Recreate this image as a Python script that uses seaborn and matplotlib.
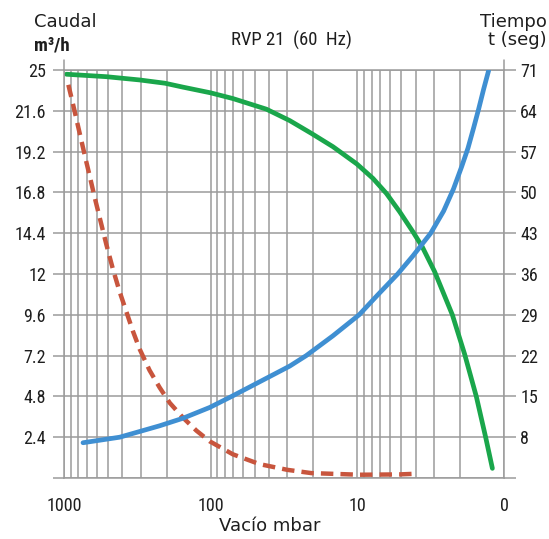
import numpy as np
import pandas as pd
import matplotlib
matplotlib.use('Agg')
import matplotlib.pyplot as plt
import matplotlib.ticker as mticker
from matplotlib import font_manager
import seaborn as sns

# curva verde: caudal (eje izquierdo)
vacio_caudal = [963, 514, 305, 205, 154.5, 100, 70.5, 41.7, 28.9, 20.6, 14.66, 10.07, 7.83, 6.34,
                5.15, 4.18, 3.61, 2.97, 2.25, 1.857, 1.545, 1.334, 1.20]
caudal = [24.74, 24.59, 24.39, 24.19, 23.95, 23.6, 23.25, 22.6, 21.9, 21.12, 20.3, 19.24, 18.36, 17.44,
          16.32, 15.09, 14.17, 12.64, 10.0, 7.6, 5.0, 2.5, 0.59]

# curva roja discontinua (eje izquierdo)
vacio_rojo = [948, 868, 790, 723, 668, 618, 562, 514, 464, 417, 376, 339, 305, 261, 223, 190,
              154.5, 125, 101.6, 70.5, 46.4, 30, 20.6, 9.64, 5.15, 4.27]
rojo = [24.34, 22.9, 21.3, 19.8, 18.5, 17.2, 15.7, 14.3, 12.8, 11.4, 10.2, 9.0, 7.9, 6.6, 5.55, 4.6,
        3.7, 2.9, 2.25, 1.45, 0.85, 0.5, 0.3, 0.2, 0.22, 0.25]

# curva azul: tiempo en segundos (eje derecho)
vacio_tiempo = [742, 417, 222.6, 154.5, 101.6, 71.9, 46.4, 28.9, 22.3, 14.66, 9.72, 7.27, 5.31, 4.18,
                3.16, 2.58, 2.21, 1.945, 1.76, 1.61, 1.489, 1.377, 1.273]
tiempo = [7.05, 8.0, 9.96, 11.25, 13.1, 15.0, 17.5, 20.2, 22.0, 25.4, 29.0, 32.4, 36.0, 39.1,
          43.0, 46.8, 50.6, 54.4, 57.6, 61.1, 64.3, 67.7, 70.9]

x_ticks = [1000, 100, 10, 1]
x_labels = ['1000', '100', '10', '0']
y_ticks = [0, 2.5, 5, 7.5, 10, 12.5, 15, 17.5, 20, 22.5, 25]
y_labels = ['', '2.4', '4.8', '7.2', '9.6', '12', '14.4', '16.8', '19.2', '21.6', '25']
t_ticks = [1, 8, 15, 22, 29, 36, 43, 50, 57, 64, 71]
t_labels = ['', '8', '15', '22', '29', '36', '43', '50', '57', '64', '71']

sns.set_style('white')
plt.rcParams['font.family'] = ['DejaVu Sans']


def fuente_estrecha(size, bold=False):
    fl = font_manager.fontManager.ttflist
    peso = 700 if bold else 400
    for nombre in ['Roboto Condensed', 'Liberation Sans Narrow', 'Open Sans Condensed']:
        cands = [f for f in fl if f.name == nombre and f.style == 'normal']
        if cands:
            f = min(cands, key=lambda f: abs((f.weight if isinstance(f.weight, int) else 400) - peso))
            return font_manager.FontProperties(fname=f.fname, size=size)
    cands = [f for f in fl if f.name == 'DejaVu Sans' and 'condensed' in str(f.stretch)
             and f.style == 'normal']
    if cands:
        f = min(cands, key=lambda f: abs((f.weight if isinstance(f.weight, int) else 400) - peso))
        return font_manager.FontProperties(fname=f.fname, size=size)
    return font_manager.FontProperties(family='DejaVu Sans', size=size,
                                       weight='bold' if bold else 'normal')


fp_tick = fuente_estrecha(13)
fp_title = fuente_estrecha(13.5)
fp_unit = fuente_estrecha(13.5, bold=True)

grid_c = '#9b9b9b'
txt_c = '#1e1e1e'
verde = '#1aa64b'
azul = '#3f8fd2'
rojo_c = '#c8553d'

W, H = 549, 539
fig = plt.figure(figsize=(W / 100, H / 100), dpi=100)
ax = fig.add_axes([64 / W, 61 / H, 440 / W, 408 / H])
ax.set_xscale('log')

df_c = pd.DataFrame({'vacio': vacio_caudal, 'caudal': caudal})
df_r = pd.DataFrame({'vacio': vacio_rojo, 'valor': rojo})
df_t = pd.DataFrame({'vacio': vacio_tiempo, 'tiempo': tiempo})

sns.lineplot(data=df_r, x='vacio', y='valor', ax=ax, color=rojo_c, lw=3.2,
             linestyle=(0, (2.8, 1.6)))
sns.lineplot(data=df_c, x='vacio', y='caudal', ax=ax, color=verde, lw=3.4)

ax.set_xlim(1000, 1)
ax.set_ylim(0, 25)
ax.set_axisbelow(True)
ax.xaxis.set_major_locator(mticker.FixedLocator(x_ticks))
ax.xaxis.set_major_formatter(mticker.FixedFormatter(x_labels))
ax.xaxis.set_minor_locator(mticker.LogLocator(base=10, subs=range(2, 10)))
ax.xaxis.set_minor_formatter(mticker.NullFormatter())
ax.set_yticks(y_ticks)
ax.set_yticklabels(y_labels)
ax.grid(True, which='both', axis='x', color=grid_c, lw=1.1)
ax.grid(True, which='major', axis='y', color=grid_c, lw=1.1)
ax.tick_params(axis='x', which='major', length=8.6, width=1.1, color=grid_c, pad=5,
               labelcolor=txt_c)
ax.tick_params(axis='x', which='minor', length=0)
ax.tick_params(axis='y', length=8, width=1.1, color=grid_c, pad=5, labelcolor=txt_c)
for lab in ax.get_xticklabels() + ax.get_yticklabels():
    lab.set_fontproperties(fp_tick)
for s in ax.spines.values():
    s.set_color(grid_c)
    s.set_linewidth(1.1)
ax.set_xlabel('')
ax.set_ylabel('')

ax2 = ax.twinx()
sns.lineplot(data=df_t, x='vacio', y='tiempo', ax=ax2, color=azul, lw=3.4)
ax2.set_xlim(1000, 1)
ax2.set_ylim(1, 71)
ax2.set_yticks(t_ticks)
ax2.set_yticklabels(t_labels)
ax2.tick_params(axis='y', length=8.6, width=1.1, color=grid_c, pad=3, labelcolor=txt_c)
for lab in ax2.get_yticklabels():
    lab.set_fontproperties(fp_tick)
for s in ax2.spines.values():
    s.set_visible(False)
ax2.set_ylabel('')
ax2.set_xlabel('')

# prolongacion de los bordes verticales por encima del 25
for xv in (1000, 1):
    ax.axvline(xv, ymin=1, ymax=1 + 10 / 408, color=grid_c, lw=1.1, clip_on=False)

fig.text(65 / W, 1 - 22 / H, 'Caudal', ha='center', va='center', fontsize=13, color=txt_c)
fig.text(52 / W, 1 - 45 / H, 'm³/h', ha='center', va='center', color=txt_c, fontproperties=fp_unit)
fig.text(291 / W, 1 - 40 / H, 'RVP 21  (60  Hz)', ha='center', va='center', color=txt_c,
         fontproperties=fp_title)
fig.text(547 / W, 1 - 22 / H, 'Tiempo', ha='right', va='center', fontsize=13, color=txt_c)
fig.text(547 / W, 1 - 40 / H, 't (seg)', ha='right', va='center', fontsize=13, color=txt_c)
fig.text(270 / W, 1 - 526 / H, 'Vacío mbar', ha='center', va='center', fontsize=13, color=txt_c)

fig.savefig('out.png', dpi=100)
